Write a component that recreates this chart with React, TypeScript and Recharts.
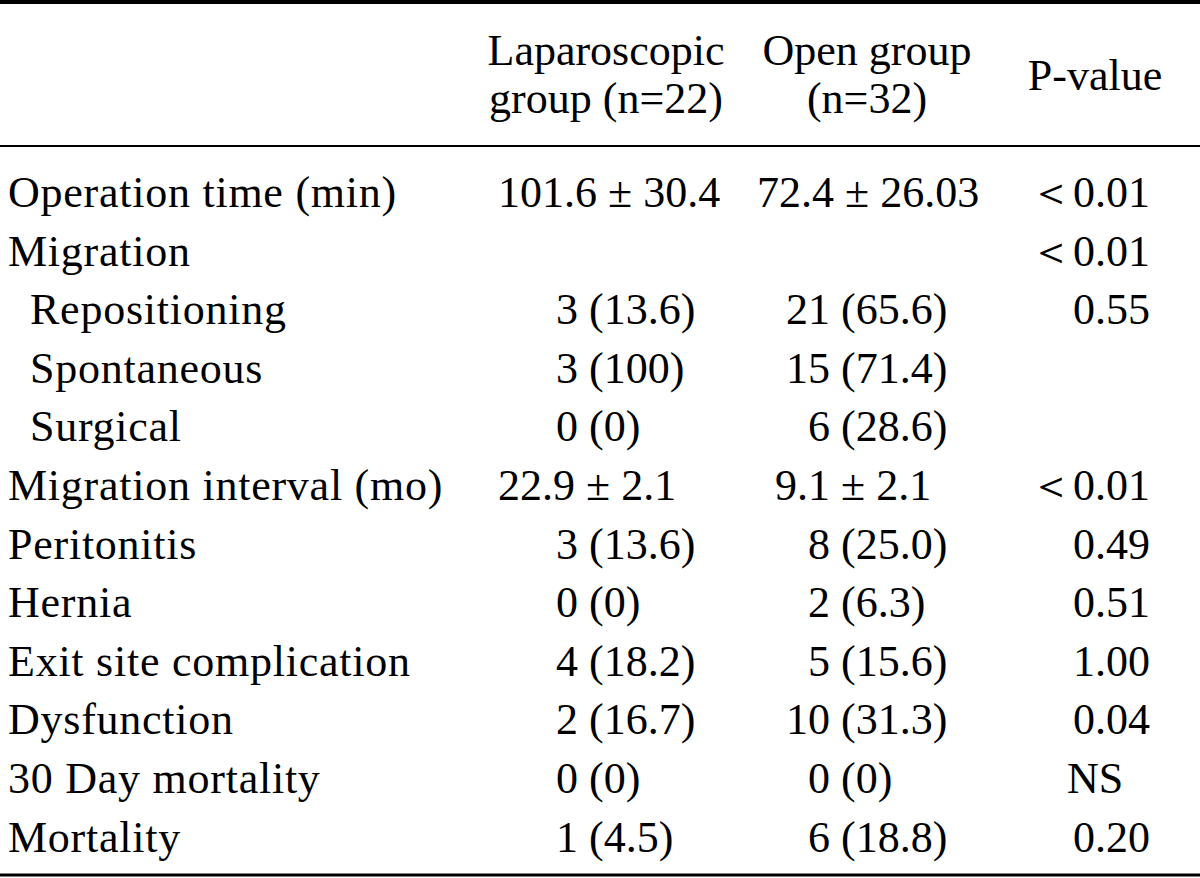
import React from 'react';
import { ScatterChart, Scatter, XAxis, YAxis, ReferenceLine } from 'recharts';

const rowLabels = [
  'Operation time (min)',
  'Migration',
  'Repositioning',
  'Spontaneous',
  'Surgical',
  'Migration interval (mo)',
  'Peritonitis',
  'Hernia',
  'Exit site complication',
  'Dysfunction',
  '30 Day mortality',
  'Mortality',
];
const indentedRows = ['Repositioning', 'Spontaneous', 'Surgical'];

const lapValues = ['101.6 ± 30.4', '', '3 (13.6)', '3 (100)', '0 (0)', '22.9 ± 2.1', '3 (13.6)', '0 (0)', '4 (18.2)', '2 (16.7)', '0 (0)', '1 (4.5)'];
const openValues = ['72.4 ± 26.03', '', '21 (65.6)', '15 (71.4)', '6 (28.6)', '9.1 ± 2.1', '8 (25.0)', '2 (6.3)', '5 (15.6)', '10 (31.3)', '0 (0)', '6 (18.8)'];
const pValues = ['＜0.01', '＜0.01', '0.55', '', '', '＜0.01', '0.49', '0.51', '1.00', '0.04', 'NS', '0.20'];

const lapHeader = ['Laparoscopic', 'group (n=22)'];
const openHeader = ['Open group', '(n=32)'];
const pHeader = 'P-value';

// layout (pixels / row units)
const W = 1200;
const H = 878;
const FONT = 44;
const ROW_TOP = -3.5324;
const ROW_BOTTOM = 11.4505;
const HEAD_LINE1 = -2.42;
const HEAD_LINE2 = -1.6;
const HEAD_MID = -2.0;

type Cell = { x: number; y: number; text: string; anchor: 'start' | 'middle' | 'end'; spacing?: number };

const cells: Cell[] = [];

rowLabels.forEach((label, i) => {
  cells.push({ x: indentedRows.includes(label) ? 30 : 8, y: i, text: label, anchor: 'start', spacing: 0.75 });
});

// pad single-digit counts so the counts line up on the right
const countX = (base: number, text: string) => {
  const count = text.split(' ')[0];
  return base + (2 - count.length) * FONT * 0.5;
};

lapValues.forEach((v, i) => {
  if (!v) return;
  if (v.includes('±')) cells.push({ x: 498, y: i, text: v, anchor: 'start' });
  else cells.push({ x: countX(534, v), y: i, text: v, anchor: 'start' });
});

openValues.forEach((v, i) => {
  if (!v) return;
  if (v.includes('±')) cells.push({ x: i === 0 ? 757 : 775, y: i, text: v, anchor: 'start' });
  else cells.push({ x: countX(786, v), y: i, text: v, anchor: 'start' });
});

pValues.forEach((v, i) => {
  if (!v) return;
  if (v === 'NS') cells.push({ x: 1095, y: i, text: v, anchor: 'middle' });
  else cells.push({ x: 1150, y: i, text: v, anchor: 'end' });
});

cells.push({ x: 606, y: HEAD_LINE1, text: lapHeader[0], anchor: 'middle' });
cells.push({ x: 606, y: HEAD_LINE2, text: lapHeader[1], anchor: 'middle' });
cells.push({ x: 867, y: HEAD_LINE1, text: openHeader[0], anchor: 'middle' });
cells.push({ x: 867, y: HEAD_LINE2, text: openHeader[1], anchor: 'middle' });
cells.push({ x: 1095, y: HEAD_MID, text: pHeader, anchor: 'middle' });

const CellText = (props: any) => {
  const { cx, cy, payload } = props;
  return (
    <text
      x={cx}
      y={cy}
      textAnchor={payload.anchor}
      fontFamily="'Liberation Serif', serif"
      fontSize={FONT}
      letterSpacing={payload.spacing || 0}
      fill="#000"
    >
      {payload.text}
    </text>
  );
};

export default function App() {
  return (
    <div style={{ width: W, height: H, background: '#fff' }}>
      <style>{'body{margin:0;background:#fff}'}</style>
      <ScatterChart width={W} height={H} margin={{ top: 0, right: 0, bottom: 0, left: 0 }}>
        <XAxis type="number" dataKey="x" domain={[0, W]} allowDataOverflow hide />
        <YAxis type="number" dataKey="y" domain={[ROW_TOP, ROW_BOTTOM]} allowDataOverflow reversed hide />
        <ReferenceLine y={-3.5} stroke="#000" strokeWidth={4} />
        <ReferenceLine y={-1.04} stroke="#000" strokeWidth={2} />
        <ReferenceLine y={11.4} stroke="#000" strokeWidth={3} />
        <Scatter data={cells} shape={<CellText />} isAnimationActive={false} />
      </ScatterChart>
    </div>
  );
}
